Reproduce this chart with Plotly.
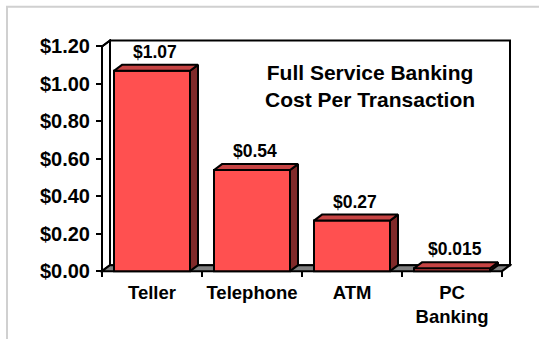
import plotly.graph_objects as go

# ---- data -------------------------------------------------------------
categories = ["Teller", "Telephone", "ATM", "PC<br>Banking"]
costs = [1.07, 0.54, 0.27, 0.015]
y_ticks = [0.0, 0.2, 0.4, 0.6, 0.8, 1.0, 1.2]
title_lines = ["Full Service Banking", "Cost Per Transaction"]

# ---- geometry / style -------------------------------------------------
W, H = 539, 339
PX_X = 100.0          # pixels per category slot
PX_Y = 188.33         # pixels per dollar
FRONT_X_PX = 102      # pixel x of the front-left floor corner
FRONT_Y_PX = 273      # pixel y of the front floor edge
x_range = [-0.52, 3.60]
y_range = [-0.01, 1.24]
DX = 8 / PX_X         # 3D depth offset (x)
DY = 6 / PX_Y         # 3D depth offset (y)
HW = 0.38             # half bar width
Y_TOP = y_ticks[-1]
X_L, X_R = -0.5, len(categories) - 0.5

m_l = FRONT_X_PX - (X_L - x_range[0]) * PX_X
m_r = W - (m_l + (x_range[1] - x_range[0]) * PX_X)
m_b = H - (FRONT_Y_PX + (0 - y_range[0]) * PX_Y)
m_t = FRONT_Y_PX - y_range[1] * PX_Y
plot_w = W - m_l - m_r
plot_h = H - m_t - m_b


def px_x(p):
    return (p - m_l) / plot_w


def px_y(p):
    return (H - m_b - p) / plot_h


FONT = "Liberation Sans, Arial, Helvetica, sans-serif"
FRONT = "#FF5050"
SIDE = "#802A2A"
TOP = "#C64444"
FLOOR = "#808080"
EDGE = dict(color="black", width=2)

xpos = list(range(len(categories)))

fig = go.Figure()

# front faces of the bars
fig.add_trace(go.Bar(
    x=xpos, y=costs, width=2 * HW,
    marker=dict(color=FRONT, line=EDGE),
    hoverinfo="skip",
))

# side and top faces
side_x, side_y, top_x, top_y = [], [], [], []
for c, v in zip(xpos, costs):
    r = c + HW
    side_x += [r, r, r + DX, r + DX, r, None]
    side_y += [0, v, v + DY, DY, 0, None]
    top_x += [c - HW, c - HW + DX, r + DX, r, c - HW, None]
    top_y += [v, v + DY, v + DY, v, v, None]

fig.add_trace(go.Scatter(x=side_x, y=side_y, mode="lines", fill="toself",
                         fillcolor=SIDE, line=EDGE, hoverinfo="skip"))
fig.add_trace(go.Scatter(x=top_x, y=top_y, mode="lines", fill="toself",
                         fillcolor=TOP, line=EDGE, hoverinfo="skip"))

shapes = []
# back wall
shapes.append(dict(type="rect", xref="x", yref="y", layer="below",
                   x0=X_L + DX, x1=X_R + DX, y0=DY, y1=Y_TOP + DY,
                   fillcolor="white", line=EDGE))
# left wall
shapes.append(dict(type="path", xref="x", yref="y", layer="below",
                   path=f"M {X_L},0 L {X_L},{Y_TOP} L {X_L + DX},{Y_TOP + DY} "
                        f"L {X_L + DX},{DY} Z",
                   fillcolor="white", line=EDGE))
# floor
shapes.append(dict(type="path", xref="x", yref="y", layer="below",
                   path=f"M {X_L},0 L {X_L + DX},{DY} L {X_R + DX},{DY} "
                        f"L {X_R},0 Z",
                   fillcolor=FLOOR, line=EDGE))
# outer frame
shapes.append(dict(type="rect", xref="paper", yref="paper", layer="below",
                   x0=px_x(7), x1=px_x(W + 20), y0=px_y(H + 20), y1=px_y(7),
                   line=dict(color="#D0D0D0", width=2)))

annotations = []
for c, v in zip(xpos, costs):
    label = "$" + f"{v:.3f}".rstrip("0")
    annotations.append(dict(
        x=c + 0.03, y=v + DY, xref="x", yref="y",
        text=label, showarrow=False, yanchor="bottom", yshift=1,
        font=dict(family=FONT, size=17.5, color="black", weight="bold"),
    ))
annotations.append(dict(
    x=px_x(370), y=px_y(87), xref="paper", yref="paper",
    text="<br>".join(title_lines), showarrow=False,
    xanchor="center", yanchor="middle", align="center",
    font=dict(family=FONT, size=21, color="black", weight="bold"),
))

axis_pos_x = (X_L - x_range[0]) / (x_range[1] - x_range[0])
axis_pos_y = (0 - y_range[0]) / (y_range[1] - y_range[0])

fig.update_layout(
    width=W, height=H,
    margin=dict(l=m_l, r=m_r, t=m_t, b=m_b, pad=0),
    paper_bgcolor="white", plot_bgcolor="rgba(0,0,0,0)",
    showlegend=False,
    shapes=shapes, annotations=annotations,
    xaxis=dict(
        range=x_range, anchor="free", position=axis_pos_y,
        tickvals=xpos, ticktext=categories,
        ticks="outside", ticklen=5, tickcolor="rgba(0,0,0,0)",
        showgrid=False, zeroline=False, showline=False,
        tickfont=dict(family=FONT, size=18.5, color="black", weight="bold"),
    ),
    xaxis2=dict(
        range=x_range, overlaying="x", anchor="free", position=axis_pos_y,
        side="bottom",
        tickvals=[i - 0.5 for i in range(len(categories) + 1)],
        ticks="outside", ticklen=5, tickwidth=2, tickcolor="black",
        showticklabels=False, showgrid=False, zeroline=False, showline=False,
    ),
    yaxis=dict(
        range=y_range, anchor="free", position=axis_pos_x,
        tickvals=y_ticks, tickformat="$.2f",
        ticks="outside", ticklen=6, tickwidth=2, tickcolor="black",
        ticklabelstandoff=2,
        showgrid=False, zeroline=False, showline=False,
        tickfont=dict(family=FONT, size=20, color="black", weight="bold"),
    ),
)

# a hidden trace on xaxis2 so its ticks are drawn
fig.add_trace(go.Scatter(x=[X_L], y=[0], xaxis="x2", mode="markers",
                         marker=dict(opacity=0), hoverinfo="skip"))

# front y-axis line with its short diagonal to the back wall
fig.add_trace(go.Scatter(
    x=[X_L, X_L, X_L + DX], y=[0, Y_TOP, Y_TOP + DY], mode="lines",
    line=EDGE, hoverinfo="skip"))

fig.write_html("out.html")
